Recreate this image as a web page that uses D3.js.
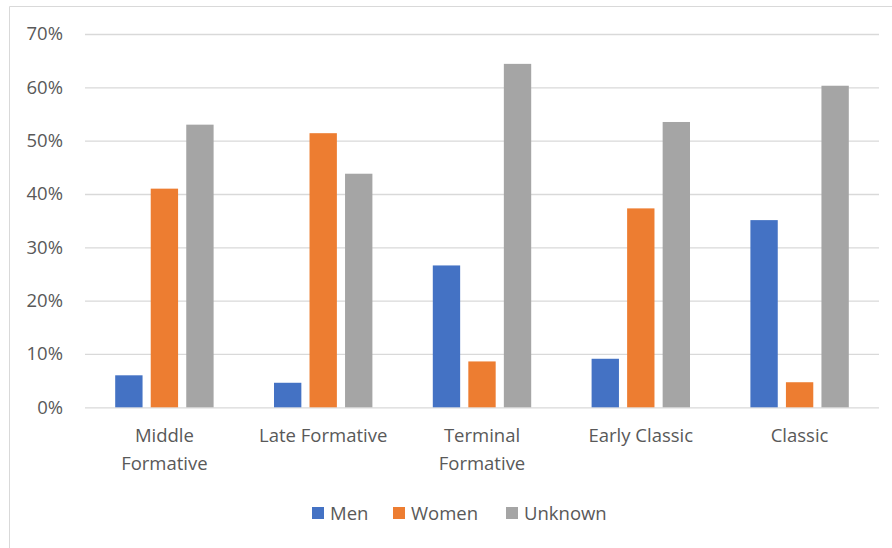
<!DOCTYPE html>
<html>
<head>
<meta charset="utf-8">
<script src="https://cdn.jsdelivr.net/npm/d3@7"></script>
<style>
  html, body { margin: 0; padding: 0; background: #fff; }
  svg { display: block; }
  text { font-family: "Open Sans", "Noto Sans", sans-serif; fill: #595959; }
</style>
</head>
<body>
<svg id="chart" width="892" height="548"></svg>
<script>
const categories = [["Middle", "Formative"], ["Late Formative"], ["Terminal", "Formative"], ["Early Classic"], ["Classic"]];
const seriesNames = ["Men", "Women", "Unknown"];
const men     = [0.060, 0.046, 0.266, 0.091, 0.351];
const women   = [0.410, 0.514, 0.086, 0.373, 0.047];
const unknown = [0.530, 0.438, 0.644, 0.535, 0.603];
const yTicks  = [0, 0.1, 0.2, 0.3, 0.4, 0.5, 0.6, 0.7];
const colors  = ["#4472C4", "#ED7D31", "#A5A5A5"];

const seriesValues = [men, women, unknown];
const catKeys = categories.map(c => c.join(" "));
const rows = catKeys.map((k, i) => ({ key: k, lines: categories[i], vals: seriesValues.map(s => s[i]) }));

const svg = d3.select("#chart");
const W = 892, H = 548;
const m = { left: 85, right: 13, top: 34, bottom: 140.7 };
const FS = 18.5;

// outer frame (cropped)
svg.append("path")
  .attr("d", `M9.5,${H} V6.5 H${W}`)
  .attr("fill", "none").attr("stroke", "#d9d9d9").attr("stroke-width", 1);

const x0 = d3.scaleBand().domain(catKeys).range([m.left, W - m.right]).paddingInner(0).paddingOuter(0);
const x1 = d3.scaleBand().domain(seriesNames).range([0, x0.bandwidth()]).paddingInner(0.23).paddingOuter(0.85);
const y = d3.scaleLinear().domain([0, 0.7]).range([H - m.bottom, m.top]);

// gridlines
const yAxis = d3.axisLeft(y).tickValues(yTicks).tickFormat(d3.format(".0%"))
  .tickSize(-(W - m.right - m.left)).tickPadding(22);
const gy = svg.append("g").attr("transform", `translate(${m.left},0)`).call(yAxis);
gy.select(".domain").remove();
gy.selectAll(".tick line").attr("stroke", "#d9d9d9").attr("stroke-width", 1.3);
gy.selectAll(".tick text").attr("font-size", FS).style("fill", "#595959")
  .attr("font-family", "'Open Sans', sans-serif");

// bars
const groups = svg.append("g").selectAll("g").data(rows).join("g")
  .attr("transform", d => `translate(${x0(d.key)},0)`);
groups.selectAll("rect").data(d => d.vals.map((v, i) => ({ s: seriesNames[i], v, i })))
  .join("rect")
  .attr("x", d => x1(d.s))
  .attr("width", x1.bandwidth())
  .attr("y", d => y(d.v))
  .attr("height", d => y(0) - y(d.v))
  .attr("fill", d => colors[d.i]);

// x axis category labels
const xl = svg.append("g");
rows.forEach(r => {
  const t = xl.append("text")
    .attr("x", x0(r.key) + x0.bandwidth() / 2)
    .attr("y", 442)
    .attr("text-anchor", "middle")
    .attr("font-size", FS);
  r.lines.forEach((ln, j) => {
    t.append("tspan").attr("x", x0(r.key) + x0.bandwidth() / 2).attr("dy", j === 0 ? 0 : 28).text(ln);
  });
});

// legend
const legendX = [312, 393, 506];
const lg = svg.append("g");
seriesNames.forEach((s, i) => {
  lg.append("rect").attr("x", legendX[i]).attr("y", 507).attr("width", 12).attr("height", 12).attr("fill", colors[i]);
  lg.append("text").attr("x", legendX[i] + 18).attr("y", 519.5).attr("font-size", FS).text(s);
});
</script>
</body>
</html>
